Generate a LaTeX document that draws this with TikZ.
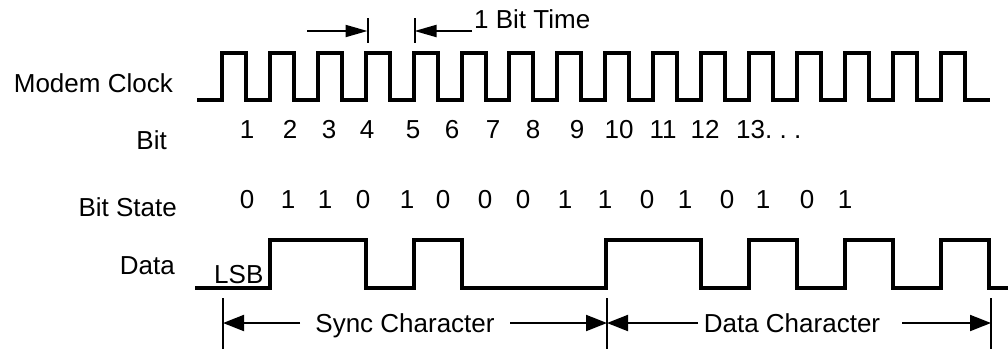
\documentclass[tikz,border=0pt]{standalone}
\usepackage{fontspec}
\setmainfont{Liberation Sans}
\usetikzlibrary{arrows.meta}
\frenchspacing
\begin{document}
\begin{tikzpicture}[x=1pt,y=-1pt,
  lbl/.style={font=\fontsize{26}{31}\selectfont, inner sep=0pt, anchor=base},
  wave/.style={line width=4pt, line join=miter, line cap=butt},
  bar/.style={line width=2pt},
  toparr/.style={line width=2pt, -{Triangle[length=22pt,width=12pt]}},
  botarr/.style={line width=2pt, -{Triangle[length=21pt,width=16pt]}}]
\useasboundingbox (0,0) rectangle (1008,349);

% left labels
\node[lbl, anchor=base east] (lmc) at (173,92) {Modem Clock};
\node[lbl, anchor=base east] (lbit) at (167,149) {Bit};
\node[lbl, anchor=base east] (lbs) at (177,216) {Bit State};
\node[lbl, anchor=base east] (ldata) at (175,274) {Data};

% modem clock
\draw[wave] (197,100)
  \foreach \k in {0,...,15} {
    -- ({222+47.9*\k},100) -- ({222+47.9*\k},53)
    -- ({246+47.9*\k},53) -- ({246+47.9*\k},100) }
  -- (990,100);

% 1 bit time
\coordinate (t1a) at (367.5,18); \coordinate (t1b) at (367.5,43);
\coordinate (t2a) at (414.5,18); \coordinate (t2b) at (414.5,43);
\draw[bar] (t1a) -- (t1b);
\draw[bar] (t2a) -- (t2b);
\coordinate (a1s) at (307,31); \coordinate (a1e) at (367.5,31);
\coordinate (a2s) at (472,31); \coordinate (a2e) at (414.5,31);
\draw[toparr] (a1s) -- (a1e);
\draw[toparr] (a2s) -- (a2e);
\node[lbl, anchor=base west] (bt) at (474,28) {1 Bit Time};

% bit numbers
\foreach \n/\x in {1/247,2/290,3/329,4/367,5/413,6/452,7/493,8/533,9/577,10/619,11/663,12/705}
  \node[lbl] (bn\n) at (\x,138) {\n};
\node[lbl, anchor=base west] (bn13) at (736,138) {13. . .};

% bit states
\foreach \i/\v/\x in {1/0/247,2/1/288,3/1/325,4/0/363,5/1/407,6/0/443,7/0/485,8/0/523,
  9/1/565,10/1/605,11/0/647,12/1/685,13/0/727,14/1/763,15/0/807,16/1/845}
  \node[lbl] (bs\i) at (\x,208) {\v};

% data
\draw[wave] (195,288) -- (270,288) -- (270,240) -- (366,240) -- (366,288)
  -- (414,288) -- (414,240) -- (461.5,240) -- (461.5,288) -- (605.5,288)
  -- (605.5,240) -- (701,240) -- (701,288) -- (749,288) -- (749,240)
  -- (797,240) -- (797,288) -- (845,288) -- (845,240) -- (893,240)
  -- (893,288) -- (940.5,288) -- (940.5,240) -- (989,240) -- (989,288)
  -- (1008,288);
\node[lbl, anchor=base west] (lsb) at (214,283) {LSB};

% bottom brackets
\coordinate (b1t) at (223,298); \coordinate (b1b) at (223,349);
\coordinate (b2t) at (607,298); \coordinate (b2b) at (607,349);
\coordinate (b3t) at (991,298); \coordinate (b3b) at (991,349);
\draw[bar] (b1t) -- (b1b);
\draw[bar] (b2t) -- (b2b);
\draw[bar] (b3t) -- (b3b);
\coordinate (s1) at (300,323); \coordinate (s1e) at (223,323);
\coordinate (s2) at (510,323); \coordinate (s2e) at (607,323);
\coordinate (d1) at (698,323); \coordinate (d1e) at (607,323);
\coordinate (d2) at (902,323); \coordinate (d2e) at (991,323);
\draw[botarr] (s1) -- (s1e);
\draw[botarr] (s2) -- (s2e);
\draw[botarr] (d1) -- (d1e);
\draw[botarr] (d2) -- (d2e);
\node[lbl] (sync) at (405,332) {Sync Character};
\node[lbl] (datac) at (792,332) {Data Character};
\end{tikzpicture}
\end{document}
